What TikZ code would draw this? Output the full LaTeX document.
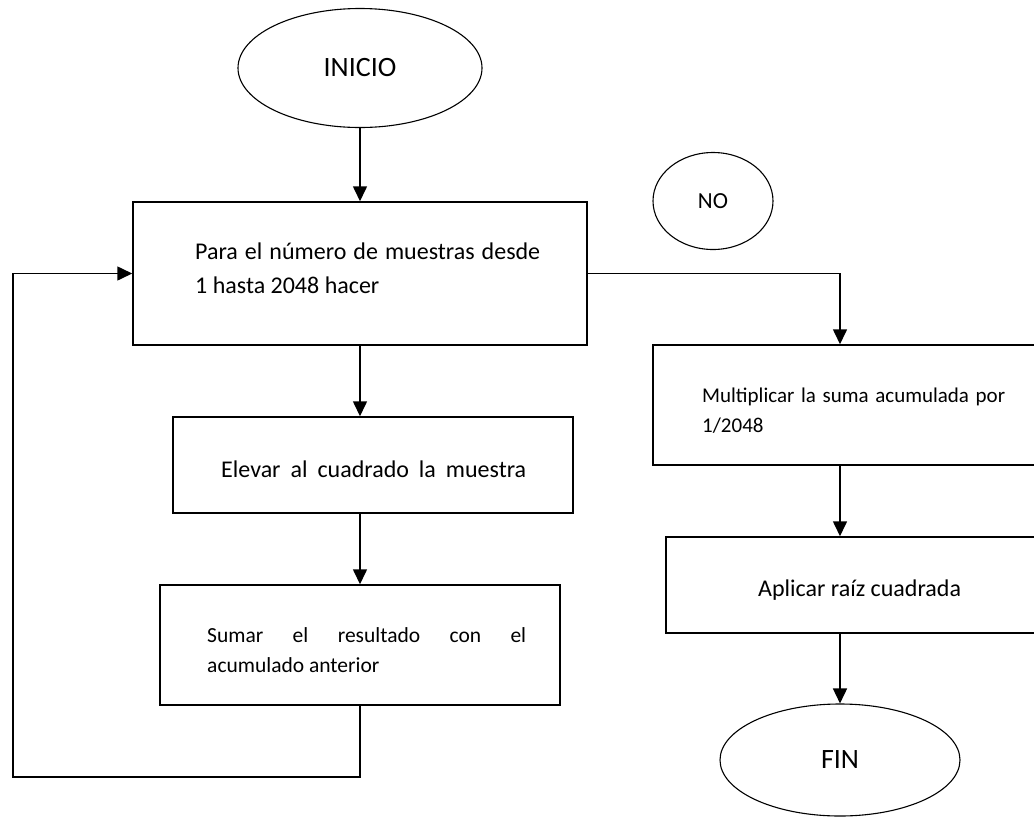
\documentclass[tikz,border=0pt]{standalone}
\usepackage{fontspec}
\setmainfont{Carlito}
\usetikzlibrary{shapes.geometric,arrows.meta}
\begin{document}
\begin{tikzpicture}[x=1pt,y=-1pt,
  procbox/.style={draw,line width=1.5pt,inner sep=0pt},
  terminal/.style={draw,ellipse,line width=1.1pt,inner sep=0pt},
  flow/.style={line width=1.6pt,-{Triangle[width=14pt,length=15pt]}},
  txt/.style={anchor=base west,inner sep=0pt},
  big/.style={font=\fontsize{28}{34}\selectfont},
  normal/.style={font=\fontsize{24}{29}\selectfont},
  small/.style={font=\fontsize{21.5}{26}\selectfont}]
\clip (0,0) rectangle (1034,820);
\fill[white] (0,0) rectangle (1034,820);

% terminals and the loose label
\node[terminal,big,minimum width=244pt,minimum height=119pt] (inicio) at (360,68) {INICIO};
\node[terminal,big,minimum width=240pt,minimum height=112pt] (fin) at (840,760) {FIN};
\node[terminal,normal,font=\fontsize{23}{28}\selectfont,minimum width=120pt,minimum height=97pt] (no) at (713,201) {NO};

% process boxes
\node[procbox,minimum width=454pt,minimum height=143pt] (loopbox) at (360,273.5) {};
\node[procbox,minimum width=400pt,minimum height=96pt] (elev) at (373,465) {};
\node[procbox,minimum width=400pt,minimum height=120pt] (suma) at (360,645) {};
\node[procbox,minimum width=400pt,minimum height=120pt] (mult) at (853,405) {};
\node[procbox,minimum width=400pt,minimum height=96pt] (raiz) at (866,585) {};

% box texts
\node[txt,normal] (looptxta) at (195,259) {\makebox[345pt][s]{Para el número de muestras desde}};
\node[txt,normal] (looptxtb) at (195,293) {1 hasta 2048 hacer};
\node[txt,normal] (elevtxt) at (221,477) {\makebox[305pt][s]{Elevar al cuadrado la muestra}};
\node[txt,small] (sumatxta) at (207,642) {\makebox[319pt][s]{Sumar\hfill el\hfill resultado\hfill con\hfill el}};
\node[txt,small] (sumatxtb) at (207,672) {acumulado anterior};
\node[txt,small,font=\fontsize{21}{26}\selectfont] (multtxta) at (702,402) {\makebox[303pt][s]{Multiplicar la suma acumulada por}};
\node[txt,small,font=\fontsize{21}{26}\selectfont] (multtxtb) at (702,432) {1/2048};
\node[txt,normal] (raiztxt) at (758,596) {Aplicar raíz cuadrada};

% connectors
\coordinate (rcol) at (840,0);
\coordinate (loopc) at (13,777);
\draw[flow] (inicio.south) -- (loopbox.north);
\draw[flow] (loopbox.south) -- (elev.north -| loopbox.south);
\draw[flow] (elev.south -| suma.north) -- (suma.north);
\draw[flow] (suma.south) |- (loopc) |- (loopbox.west);
\draw[flow] (loopbox.east) -| (mult.north -| rcol);
\draw[flow] (mult.south -| rcol) -- (raiz.north -| rcol);
\draw[flow] (raiz.south -| rcol) -- (fin.north);
\end{tikzpicture}
\end{document}
